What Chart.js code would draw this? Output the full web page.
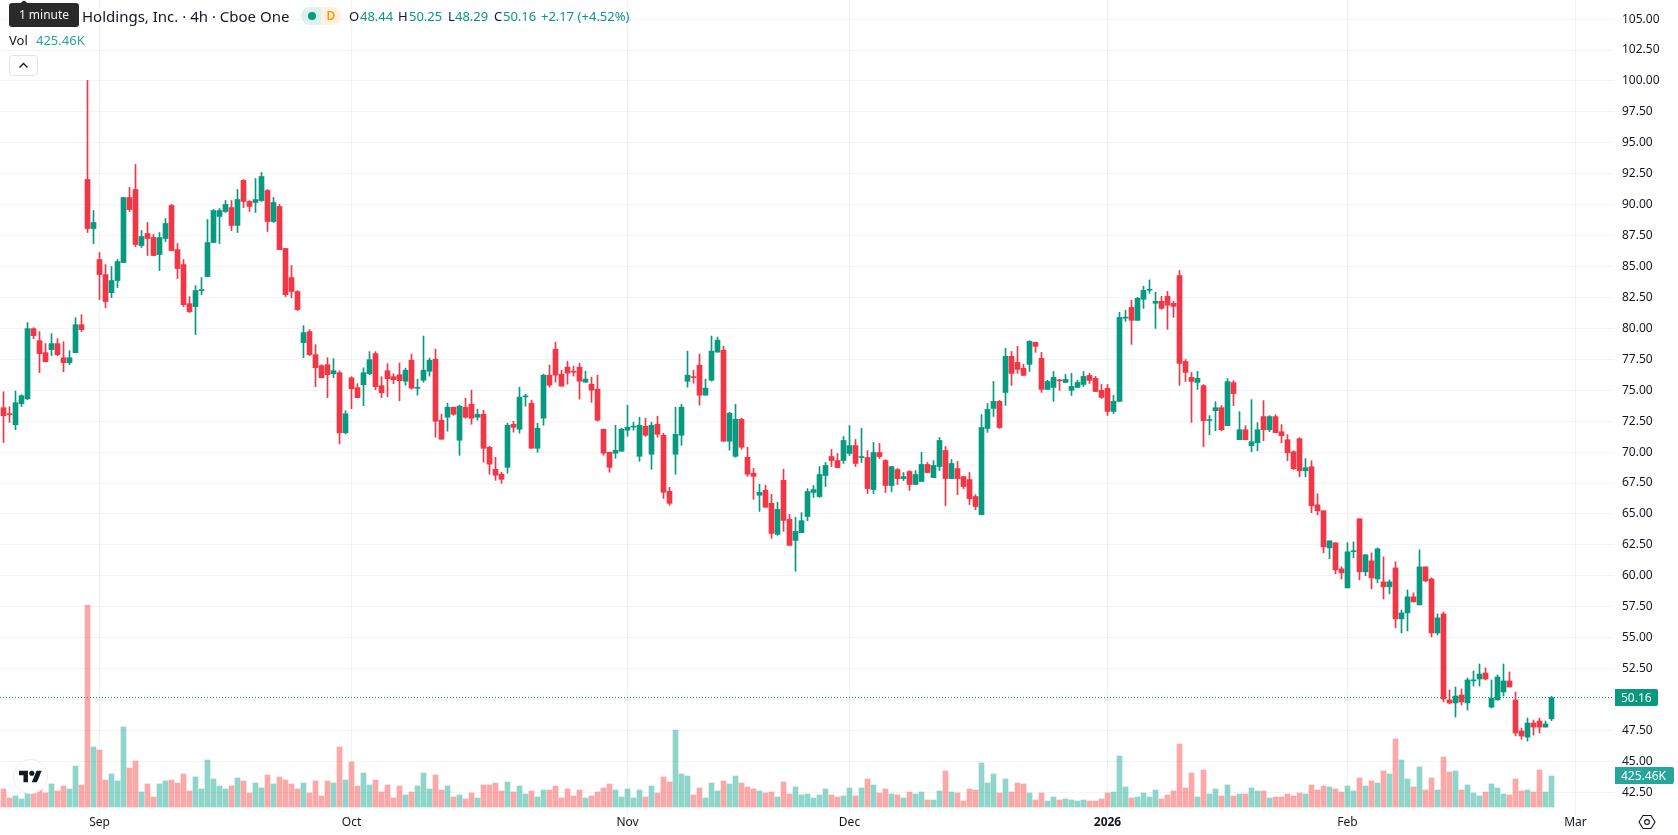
<!DOCTYPE html>
<html lang="en">
<head>
<meta charset="utf-8">
<title>Holdings, Inc. 4h</title>
<script src="https://cdn.jsdelivr.net/npm/chart.js@4/dist/chart.umd.min.js"></script>
<style>
  html, body { margin: 0; padding: 0; background: #fff; overflow: hidden; }
  body { width: 1678px; height: 835px; position: relative; font-family: "Noto Sans", sans-serif; color: #131722; }
  canvas { position: absolute; left: 0; top: 0; }
  .t { position: absolute; white-space: nowrap; line-height: 18px; height: 18px; font-size: 13px; }
  .up { color: #089981; }
  .vol { color: #26a69a; }
  #tip { position: absolute; left: 9px; top: 3px; width: 70px; height: 24px; background: #2a2a2a; border-radius: 3px;
         color: #f2f2f2; font-size: 12px; line-height: 24px; text-align: center; }
  #tipArrow { position: absolute; left: 10px; top: -1px; width: 10px; height: 10px; background: #2a2a2a; transform: rotate(45deg); border-radius: 2px; }
  #pillA { position: absolute; left: 301px; top: 7px; width: 20px; height: 18px; background: #daf3ee; border-radius: 9px 0 0 9px; }
  #pillB { position: absolute; left: 321px; top: 7px; width: 20px; height: 18px; background: #fff0e0; border-radius: 0 9px 9px 0;
           color: #ff9800; font-size: 12px; font-weight: 600; line-height: 18px; text-align: center; }
  #dot { position: absolute; left: 308px; top: 12px; width: 8px; height: 8px; border-radius: 50%; background: #089981; }
  #collapse { position: absolute; left: 9px; top: 55px; border: 1px solid #e0e3eb; border-radius: 4px; box-sizing: content-box; width: 27px; height: 19px; background: #fff; }
  .box { position: absolute; left: 1615px; height: 17px; line-height: 17px; color: #fff; font-size: 12px; padding-left: 6px; box-sizing: border-box; border-radius: 0 2px 2px 0; }
  #logo { position: absolute; left: 13px; top: 759px; width: 33px; height: 33px; border-radius: 50%; background: #fff; border: 1px solid #ebedf0; }
  #gear { position: absolute; left: 1638px; top: 813px; }
</style>
</head>
<body>
<canvas id="chart" width="1678" height="835"></canvas>

<div class="t" style="left:82px;top:7px;font-size:15px;">Holdings, Inc. · 4h · Cboe One</div>
<div id="pillA"></div><div id="pillB">D</div><div id="dot"></div>
<div class="t" style="left:349px;top:7px;">O</div><div class="t up" style="left:360px;top:7px;">48.44</div>
<div class="t" style="left:398px;top:7px;">H</div><div class="t up" style="left:409px;top:7px;">50.25</div>
<div class="t" style="left:448px;top:7px;">L</div><div class="t up" style="left:455px;top:7px;">48.29</div>
<div class="t" style="left:494px;top:7px;">C</div><div class="t up" style="left:503px;top:7px;">50.16</div>
<div class="t up" style="left:541px;top:7px;">+2.17 (+4.52%)</div>
<div class="t" style="left:9px;top:31px;">Vol</div><div class="t vol" style="left:36px;top:31px;">425.46K</div>
<div id="collapse">
  <svg width="27" height="19" viewBox="0 0 27 19"><path d="M9.5 11.5 L13.5 7.5 L17.5 11.5" fill="none" stroke="#131722" stroke-width="1.3"/></svg>
</div>
<div id="tip"><div id="tipArrow"></div><span style="position:relative">1 minute</span></div>

<div class="box" id="priceBox" style="width:43px;background:#089981;">50.16</div>
<div class="box" id="volBox" style="width:59px;background:#26a69a;">425.46K</div>

<div id="logo">
  <svg style="position:absolute;left:5px;top:9px" width="23" height="15" viewBox="0 4 36 18"><path d="M14 22H7V11H0V4h14v18zM28 22h-8l7.5-18h8L28 22z" fill="#131722"/><circle cx="20" cy="8" r="4" fill="#131722"/></svg>
</div>
<svg id="gear" width="18" height="18" viewBox="0 0 18 18"><path d="M5 2.5h8L17 9l-4 6.5H5L1 9z" fill="none" stroke="#131722" stroke-width="1.1"/><circle cx="9" cy="9" r="2.4" fill="none" stroke="#131722" stroke-width="1.1"/></svg>

<script>
// 4h candles, one entry per session bar, oldest first.
const opens = [
73.59,73.11,72.21,73.91,74.31,79.98,79.01,78.04,78.28,78.77,
77.63,77.23,78.04,80.30,92.04,88.07,85.57,84.35,82.89,83.87,
85.32,90.58,91.23,86.70,87.67,87.35,85.97,87.27,89.94,86.37,
85.16,82.00,81.76,83.05,84.19,86.94,89.05,89.45,89.77,88.32,
91.96,90.26,90.18,90.34,91.15,88.64,89.86,86.46,84.11,82.98,
78.85,79.74,77.88,76.99,77.07,76.34,76.42,71.56,76.01,75.21,
75.45,76.34,77.96,75.37,76.58,76.10,76.26,75.73,77.43,75.16,
75.81,76.54,77.51,72.58,72.82,73.63,70.96,73.63,73.87,72.82,
73.06,70.39,68.61,68.21,68.77,72.25,71.85,74.46,73.95,70.31,
72.74,76.22,78.32,76.30,76.87,76.54,76.87,75.65,75.49,75.09,
71.85,69.99,69.91,70.07,71.77,72.02,69.66,72.09,69.83,72.25,
71.36,66.83,69.83,71.36,75.73,76.10,77.03,74.60,75.81,78.08,
78.24,70.88,69.66,72.66,69.58,68.29,66.51,66.91,65.86,63.35,
67.72,64.56,62.86,63.49,64.79,66.73,66.41,68.11,69.64,69.32,
69.32,69.89,70.53,69.56,69.56,66.97,69.97,69.32,67.30,68.59,
67.86,68.43,67.38,67.62,69.00,67.94,68.83,70.13,67.86,68.67,
68.02,67.78,66.41,64.95,71.91,73.53,74.10,74.82,77.74,77.25,
76.77,77.09,78.87,77.58,75.07,75.23,75.84,75.63,74.99,75.23,
75.47,76.20,75.96,74.99,75.15,73.29,74.10,80.83,81.70,80.65,
82.35,83.09,82.03,82.19,82.59,82.03,84.27,77.33,76.04,75.63,
75.37,72.56,73.35,73.59,72.14,75.62,71.00,71.81,70.52,70.76,
72.87,71.81,72.87,71.65,71.00,70.03,71.08,68.49,68.82,65.74,
65.26,62.26,62.67,60.56,59.02,61.95,64.61,60.32,61.21,59.75,
59.51,59.11,60.64,56.52,57.00,58.30,57.65,60.72,59.75,55.38,
56.92,49.96,49.72,50.36,49.72,51.51,51.66,52.14,49.39,49.96,
50.61,51.50,49.96,47.45,46.96,48.10,48.26,47.77,48.44];

const highs = [
74.88,73.67,74.94,74.64,80.47,80.06,79.74,78.77,79.58,79.17,
78.93,78.20,80.87,81.11,100.05,89.53,86.13,85.16,85.00,85.57,
90.58,91.39,93.25,87.91,88.56,87.59,87.75,88.88,90.02,86.86,
85.57,82.57,83.46,84.11,88.80,89.61,89.69,90.34,90.34,91.23,
92.04,90.34,92.12,92.61,91.23,90.58,90.02,86.46,85.08,83.06,
80.22,79.90,78.69,77.07,77.63,77.55,76.58,73.34,76.10,75.53,
76.82,78.12,78.12,76.10,77.15,76.34,77.20,76.79,77.92,75.90,
79.38,77.60,78.32,73.06,73.95,73.63,73.79,74.36,75.01,73.47,
73.39,70.47,69.58,68.37,72.33,72.50,75.25,74.68,74.20,72.33,
76.30,77.03,78.89,76.62,77.35,76.95,77.19,76.54,76.06,76.22,
71.85,69.99,72.17,71.93,73.79,72.42,72.82,72.74,72.42,72.90,
71.53,67.15,73.63,73.87,78.16,76.62,77.92,75.90,79.38,79.30,
78.57,73.22,73.87,72.74,70.39,68.69,67.40,67.32,66.59,65.94,
68.61,64.97,64.73,65.11,67.05,67.30,68.83,69.16,70.21,69.89,
71.26,72.15,71.02,71.91,70.13,70.78,70.70,69.40,68.83,68.67,
68.35,68.51,68.51,69.97,69.16,69.32,71.18,70.45,69.40,69.24,
68.02,68.35,66.57,73.04,73.93,75.71,74.18,78.39,78.14,78.55,
77.09,79.01,78.87,78.06,75.80,76.52,75.88,76.28,76.36,75.80,
76.52,76.36,76.12,75.47,75.47,74.58,81.30,81.46,82.27,82.51,
83.40,83.92,82.92,82.59,83.00,82.19,84.68,77.49,76.44,76.52,
75.46,72.95,74.08,73.76,75.94,75.78,73.27,72.14,74.24,72.38,
74.16,72.95,73.03,72.22,71.41,70.11,71.17,69.47,69.30,66.63,
65.26,62.83,62.67,60.72,62.67,62.75,64.61,61.70,61.86,62.26,
61.53,59.67,61.13,57.24,58.86,58.62,62.10,60.72,59.83,56.92,
57.08,50.77,51.01,50.85,51.74,52.31,52.87,52.55,51.58,51.98,
52.87,52.23,50.61,47.69,48.50,48.34,48.50,48.26,50.25];

const lows = [
70.78,72.40,71.81,73.69,74.23,79.17,76.42,77.29,77.80,77.80,
76.50,77.07,78.04,79.74,87.75,86.86,82.33,81.68,82.49,83.30,
85.32,89.45,86.62,86.54,85.89,85.89,84.68,87.02,86.29,84.03,
81.76,81.28,79.50,82.73,84.19,86.94,86.86,89.37,87.91,87.75,
89.77,89.45,89.37,90.26,87.83,88.56,86.37,82.57,82.49,81.44,
77.63,77.80,75.29,76.01,74.40,76.01,70.67,71.48,73.51,74.40,
73.75,76.26,75.04,74.40,74.48,75.53,74.15,75.41,75.09,74.60,
75.65,76.14,71.20,71.04,71.69,72.98,69.74,72.74,72.25,72.58,
69.18,68.21,67.72,67.48,68.29,71.61,71.53,73.71,70.31,69.99,
72.17,75.25,75.65,75.33,75.49,76.14,74.28,75.65,74.03,72.50,
69.74,68.37,69.50,70.07,71.28,71.77,69.26,71.28,68.61,71.20,
66.26,65.70,68.21,70.55,75.25,75.57,73.79,74.60,75.73,78.08,
70.88,70.15,69.58,70.23,68.04,66.18,65.21,65.54,63.03,63.27,
63.59,62.46,60.36,63.49,64.46,66.33,66.33,67.22,68.83,68.75,
69.08,69.72,68.83,69.16,66.65,66.65,69.48,66.73,66.81,67.38,
67.70,66.89,67.38,67.62,68.35,67.94,68.51,65.68,67.86,66.57,
67.05,65.76,65.35,64.95,71.59,72.88,71.91,73.77,75.39,76.36,
76.20,76.52,78.06,74.82,75.07,74.10,74.99,75.63,74.58,75.23,
75.31,75.55,74.90,74.34,72.96,73.12,74.10,80.57,78.71,80.65,
81.62,82.84,80.00,81.54,79.92,80.89,75.39,75.71,72.40,75.07,
70.44,71.41,71.73,71.73,72.14,73.76,71.00,71.00,70.03,70.11,
70.92,71.65,71.57,70.76,69.30,68.58,68.01,68.01,65.10,64.93,
61.86,61.37,60.16,59.75,59.02,61.45,59.67,60.00,58.94,59.43,
58.13,58.54,55.79,55.38,55.54,57.89,57.65,59.51,55.06,55.22,
49.80,49.64,48.58,49.55,49.15,51.09,51.09,51.58,49.31,49.96,
50.28,51.01,47.05,46.80,46.64,47.13,47.29,47.77,48.29];

const closes = [
72.94,73.03,73.99,74.56,79.98,79.41,77.96,77.31,78.77,77.88,
77.23,77.63,80.30,79.90,88.07,88.56,84.35,82.17,83.87,85.40,
90.58,89.61,86.78,87.43,87.27,85.89,87.35,88.48,86.29,84.84,
81.92,81.36,83.06,83.13,86.94,89.53,89.53,90.02,88.32,90.42,
90.26,89.86,90.42,92.28,88.64,90.18,86.37,82.73,82.98,81.52,
79.66,77.88,76.82,76.01,76.26,76.58,71.56,73.10,75.12,74.40,
76.42,77.47,75.29,74.80,75.93,75.85,75.77,76.62,75.17,75.24,
76.62,77.43,72.50,71.04,73.63,73.06,73.71,72.82,72.74,73.06,
70.31,69.02,68.13,67.80,72.17,72.01,74.44,74.54,70.31,71.93,
76.22,75.41,76.22,75.33,76.38,76.46,75.73,75.90,75.01,72.58,
69.91,68.77,70.15,71.85,72.01,72.10,72.17,71.36,72.17,71.44,
66.75,65.86,71.44,73.63,76.22,76.02,74.60,75.17,78.16,79.05,
70.88,73.14,72.66,70.39,68.21,68.04,66.75,65.54,63.43,65.37,
64.48,62.46,63.59,64.46,66.81,66.97,68.19,68.92,69.32,68.75,
70.94,70.53,69.08,69.64,67.05,69.97,69.64,67.30,68.83,67.86,
68.02,67.38,68.19,69.00,68.35,68.92,70.94,67.86,69.08,67.86,
67.22,66.24,65.60,71.99,73.45,74.10,71.99,77.74,76.36,76.69,
76.20,78.95,78.55,75.07,75.71,76.04,75.76,75.88,75.31,75.63,
76.12,75.80,74.90,74.42,73.29,74.10,80.89,80.91,80.65,82.43,
83.08,83.17,82.19,81.62,81.87,81.78,77.17,76.44,75.71,75.96,
72.54,72.64,73.59,71.81,75.70,74.73,71.81,71.00,70.84,71.81,
71.81,72.87,71.57,71.33,69.95,68.66,68.49,68.74,65.66,65.26,
62.34,62.83,60.48,60.24,61.94,62.03,60.32,61.70,59.83,62.18,
59.11,59.51,56.52,57.00,58.30,57.89,60.72,59.59,55.38,56.60,
50.04,49.72,50.28,49.80,51.58,51.59,52.06,51.66,50.12,51.82,
51.50,51.01,47.29,47.05,48.10,47.77,47.77,48.02,50.16];

// Traded volume per bar, in thousands of shares.
const volumes = [
247,123,151,110,206,206,261,192,316,220,
288,247,562,302,2771,823,782,370,453,357,
1098,535,631,206,316,137,316,357,370,329,
453,220,412,247,645,384,288,247,288,398,
357,192,329,261,439,316,412,370,316,247,
329,192,357,151,357,329,823,370,617,288,
466,302,370,206,302,123,288,165,206,288,
466,247,439,233,288,137,165,110,192,123,
302,302,329,220,343,206,288,178,220,137,
233,233,288,123,247,151,233,123,151,206,
261,316,233,137,247,123,233,137,288,192,
412,343,1056,453,425,165,261,123,329,220,
357,316,425,329,274,247,220,192,206,137,
343,178,274,165,178,123,165,247,165,137,
151,261,151,261,384,302,192,247,178,165,
123,206,178,206,96,96,220,494,206,192,
82,247,233,604,329,453,192,384,206,329,
316,192,96,192,82,137,96,110,96,82,
96,82,82,110,192,206,700,274,123,137,
192,137,233,110,165,220,864,261,466,137,
508,178,247,151,302,151,178,178,261,220,
220,123,137,137,178,151,192,178,302,233,
288,274,247,206,288,220,398,288,357,329,
494,453,933,645,384,274,549,233,398,233,
686,480,494,233,302,192,151,206,316,261,
178,165,384,220,233,206,508,206,425.46];

// Bar index where each calendar label sits on the time axis.
const monthBars = [16, 58, 104, 141, 184, 224, 262];
const monthLabels = ["Sep", "Oct", "Nov", "Dec", "2026", "Feb", "Mar"];
const yearBar = 184;

const priceTicks = [42.5,45,47.5,50,52.5,55,57.5,60,62.5,65,67.5,70,72.5,75,77.5,80,82.5,85,87.5,90,92.5,95,97.5,100,102.5,105];
const lastClose = 50.16;
const lastVolume = 425.46;

const UP = "#089981", DOWN = "#f23645";
const UP_VOL = "rgba(34,171,148,0.5)", DOWN_VOL = "rgba(247,82,82,0.5)";
const GRID = "rgba(46,46,46,0.06)";
const isUp = i => closes[i] >= opens[i];
const barColor = (up, down) => closes.map((_, i) => isUp(i) ? up : down);

const xMin = -0.5833, xMax = 268.4167;

const chart = new Chart(document.getElementById("chart"), {
  type: "bar",
  data: {
    datasets: [
      {
        label: "Last",
        type: "line",
        order: 0,
        yAxisID: "y",
        data: [{ x: xMin, y: lastClose }, { x: xMax, y: lastClose }],
        borderColor: UP,
        borderWidth: 1,
        borderDash: [1, 2],
        pointRadius: 0
      },
      {
        label: "Body",
        order: 1,
        yAxisID: "y",
        grouped: false,
        barThickness: 5,
        data: opens.map((o, i) => ({ x: i, y: [o, closes[i]] })),
        backgroundColor: barColor(UP, DOWN)
      },
      {
        label: "Wick",
        order: 2,
        yAxisID: "y",
        grouped: false,
        barThickness: 1,
        data: lows.map((l, i) => ({ x: i, y: [l, highs[i]] })),
        backgroundColor: barColor(UP, DOWN)
      },
      {
        label: "Vol",
        order: 3,
        yAxisID: "v",
        grouped: false,
        barThickness: 5,
        data: volumes.map((v, i) => ({ x: i, y: v })),
        backgroundColor: barColor(UP_VOL, DOWN_VOL)
      }
    ]
  },
  options: {
    responsive: false,
    animation: false,
    devicePixelRatio: 1,
    layout: { padding: 0 },
    events: [],
    plugins: { legend: { display: false }, tooltip: { enabled: false } },
    scales: {
      x: {
        type: "linear",
        offset: false,
        min: xMin,
        max: xMax,
        afterBuildTicks: s => { s.ticks = monthBars.map(v => ({ value: v })); },
        afterFit: s => { s.height = 20; s.paddingLeft = 0; s.paddingRight = 0; },
        grid: { color: GRID, drawTicks: false, offset: false },
        border: { display: false },
        ticks: {
          autoSkip: false,
          maxRotation: 0,
          padding: 0,
          color: "#131722",
          font: c => ({
            family: '"Noto Sans", sans-serif',
            size: 12,
            weight: c.tick && c.tick.value === yearBar ? "bold" : "normal"
          }),
          callback: v => monthLabels[monthBars.indexOf(v)]
        }
      },
      y: {
        position: "right",
        min: 40.663,
        max: 106.548,
        afterBuildTicks: s => { s.ticks = priceTicks.map(v => ({ value: v })); },
        afterFit: s => { s.width = 64; s.paddingTop = 0; s.paddingBottom = 0; },
        grid: { color: GRID, drawTicks: false },
        border: { display: false },
        ticks: {
          autoSkip: false,
          padding: 8,
          color: "#131722",
          font: { family: '"Noto Sans", sans-serif', size: 12 },
          callback: v => v === 50 ? "" : v.toFixed(2)
        }
      },
      v: {
        display: false,
        min: -109.8,
        max: 11072
      }
    }
  }
});

// Last-value tags on the price axis follow the scales.
const priceY = chart.scales.y.getPixelForValue(lastClose);
const volY = chart.scales.v.getPixelForValue(lastVolume);
document.getElementById("priceBox").style.top = (priceY - 8.5) + "px";
document.getElementById("volBox").style.top = (volY - 8.5) + "px";
</script>
</body>
</html>
